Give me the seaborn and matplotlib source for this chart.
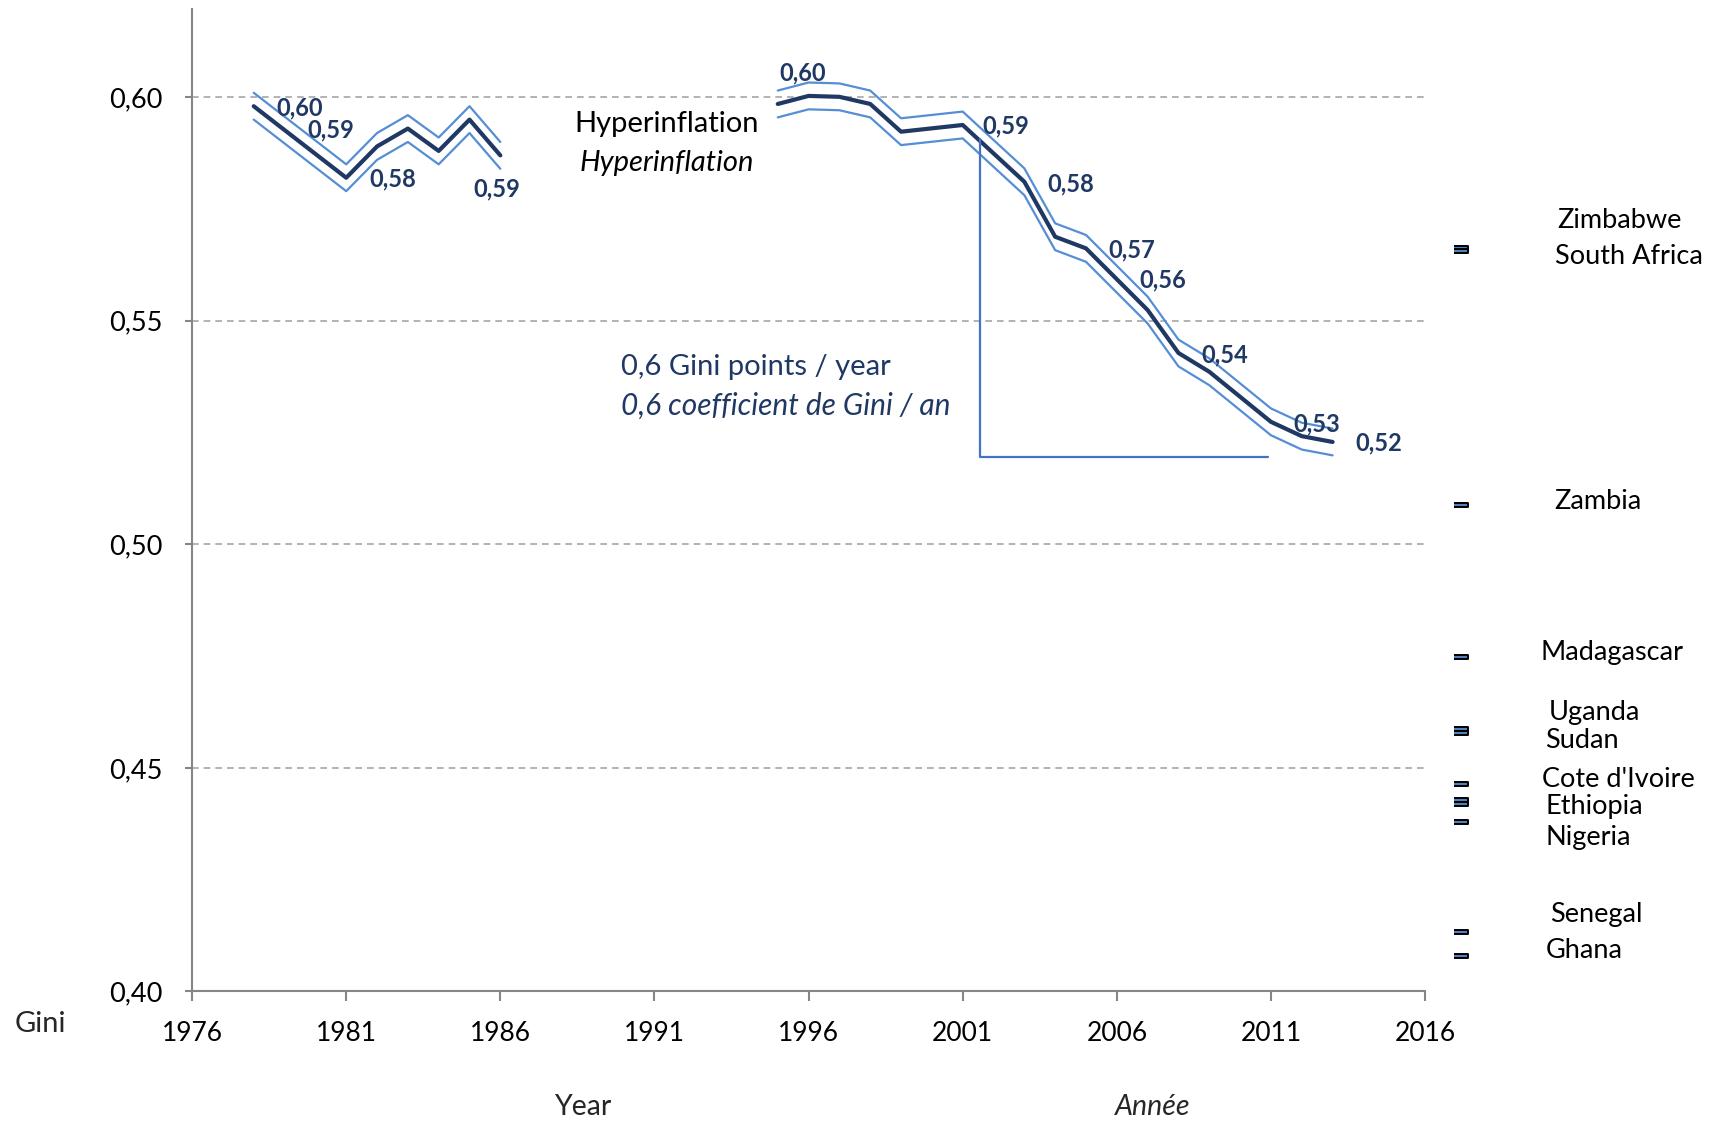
import matplotlib
matplotlib.use('Agg')
import matplotlib.pyplot as plt
from matplotlib.ticker import FuncFormatter
import seaborn as sns

# --- data ---
years_a = [1978, 1981, 1982, 1983, 1984, 1985, 1986]
gini_a = [0.598, 0.582, 0.589, 0.593, 0.588, 0.595, 0.587]
upper_a = [0.601, 0.585, 0.592, 0.596, 0.591, 0.598, 0.590]
lower_a = [0.595, 0.579, 0.586, 0.590, 0.585, 0.592, 0.584]

years_b = [1995, 1996, 1997, 1998, 1999, 2001, 2003, 2004, 2005, 2007, 2008, 2009, 2011, 2012, 2013]
gini_b = [0.5985, 0.6003, 0.6001, 0.5985, 0.5923, 0.5938, 0.5811, 0.5688, 0.5662,
          0.5524, 0.5428, 0.5386, 0.5274, 0.5242, 0.5229]
upper_b = [0.6015, 0.6033, 0.6031, 0.6015, 0.5953, 0.5968, 0.5841, 0.5718, 0.5692,
           0.5554, 0.5458, 0.5416, 0.5304, 0.5272, 0.5259]
lower_b = [0.5955, 0.5973, 0.5971, 0.5955, 0.5893, 0.5908, 0.5781, 0.5658, 0.5632,
           0.5494, 0.5398, 0.5356, 0.5244, 0.5212, 0.5199]

# value labels shown along the line
label_text = ['0,60', '0,59', '0,58', '0,59', '0,60', '0,59', '0,58', '0,57', '0,56', '0,54', '0,53', '0,52']
label_x = [1979.5, 1980.5, 1982.5, 1985.9, 1995.8, 2002.4, 2004.5, 2006.5, 2007.5, 2009.5, 2012.5, 2014.5]
label_y = [0.5976, 0.5927, 0.5817, 0.5795, 0.6054, 0.5937, 0.5807, 0.5658, 0.5592, 0.5424, 0.5270, 0.5226]

# comparison countries
country_year = 2017.15
country_gini = [0.5663, 0.5656, 0.5088, 0.4748, 0.4588, 0.4579, 0.4464, 0.4429, 0.4419, 0.4379, 0.4133, 0.4079]
country_names = ['Zimbabwe', 'South Africa', 'Zambia', 'Madagascar', 'Uganda', 'Sudan',
                 "Cote d'Ivoire", 'Ethiopia', 'Nigeria', 'Senegal', 'Ghana']
name_x = [2020.3, 2020.2, 2020.2, 2019.75, 2020.0, 2019.9, 2019.8, 2019.9, 2019.9, 2020.05, 2019.9]
name_y = [0.5724, 0.5643, 0.5096, 0.4759, 0.4623, 0.4562, 0.4474, 0.4413, 0.4344, 0.4171, 0.4091]

x_ticks = [1976, 1981, 1986, 1991, 1996, 2001, 2006, 2011, 2016]
y_ticks = [0.40, 0.45, 0.50, 0.55, 0.60]

DARK = '#1F3864'
LIGHT = '#558ED5'
GREY = '#868686'

sns.set_theme(style='white')
plt.rcParams['font.family'] = ['Lato', 'DejaVu Sans']

fig = plt.figure(figsize=(17.12, 11.22), dpi=100)
ax = fig.add_axes([0.1122, 0.1164, 0.7202, 0.8758])

for yrs, lo, mid, hi in [(years_a, lower_a, gini_a, upper_a), (years_b, lower_b, gini_b, upper_b)]:
    sns.lineplot(x=yrs, y=hi, color=LIGHT, lw=1.6, ax=ax)
    sns.lineplot(x=yrs, y=lo, color=LIGHT, lw=1.6, ax=ax)
    sns.lineplot(x=yrs, y=mid, color=DARK, lw=3.0, ax=ax)

for t, x, y in zip(label_text, label_x, label_y):
    ax.text(x, y, t, ha='center', va='center', fontsize=17, fontweight='bold', color=DARK)

# country markers (small horizontal bars)
bar = [(-1.5, -0.45), (1.5, -0.45), (1.5, 0.45), (-1.5, 0.45)]
sns.scatterplot(x=[country_year] * len(country_gini), y=country_gini, marker=bar, s=110,
                color='#4F81BD', edgecolor='black', linewidth=1.4, ax=ax, clip_on=False, zorder=5)
for name, x, y in zip(country_names, name_x, name_y):
    ax.text(x, y, name, ha='left', va='center', fontsize=19.5, color='black', clip_on=False)

# annotations
ax.text(1991.4, 0.5941, 'Hyperinflation', ha='center', va='center', fontsize=21, color='black')
ax.text(1991.4, 0.5853, 'Hyperinflation', ha='center', va='center', fontsize=21,
        style='italic', color='black')
ax.text(1989.9, 0.5397, '0,6 Gini points / year', ha='left', va='center', fontsize=21, color=DARK)
ax.text(1989.9, 0.5311, '0,6 coefficient de Gini / an', ha='left', va='center', fontsize=21.5,
        style='italic', color=DARK)
ax.plot([2001.55, 2001.55, 2010.89], [0.5906, 0.5196, 0.5196], color='#4472C4', lw=1.6)

ax.set_xlim(1976, 2016)
ax.set_ylim(0.40, 0.6198)
ax.set_xticks(x_ticks)
ax.set_yticks(y_ticks)
ax.yaxis.set_major_formatter(FuncFormatter(lambda v, p: f'{v:.2f}'.replace('.', ',')))
ax.tick_params(axis='x', direction='out', length=7, width=1.5, color=GREY, pad=14,
               labelsize=19, labelcolor='black', bottom=True)
ax.tick_params(axis='y', direction='out', length=5, width=1.5, color=GREY, pad=16,
               labelsize=19.5, labelcolor='black', left=True)
ax.yaxis.grid(True, linestyle=(0, (4, 3)), color='#A6A6A6', lw=1.2)
ax.xaxis.grid(False)
for s in ['top', 'right']:
    ax.spines[s].set_visible(False)
for s in ['left', 'bottom']:
    ax.spines[s].set_color(GREY)
    ax.spines[s].set_linewidth(1.5)
ax.set_xlabel('')
ax.set_ylabel('')

fig.text(0.0234, 0.0874, 'Gini', ha='center', va='center', fontsize=21)
fig.text(0.341, 0.0134, 'Year', ha='center', va='center', fontsize=20.5)
fig.text(0.673, 0.0134, 'Année', ha='center', va='center', fontsize=20.5, style='italic')

fig.savefig('out.png', dpi=100)
